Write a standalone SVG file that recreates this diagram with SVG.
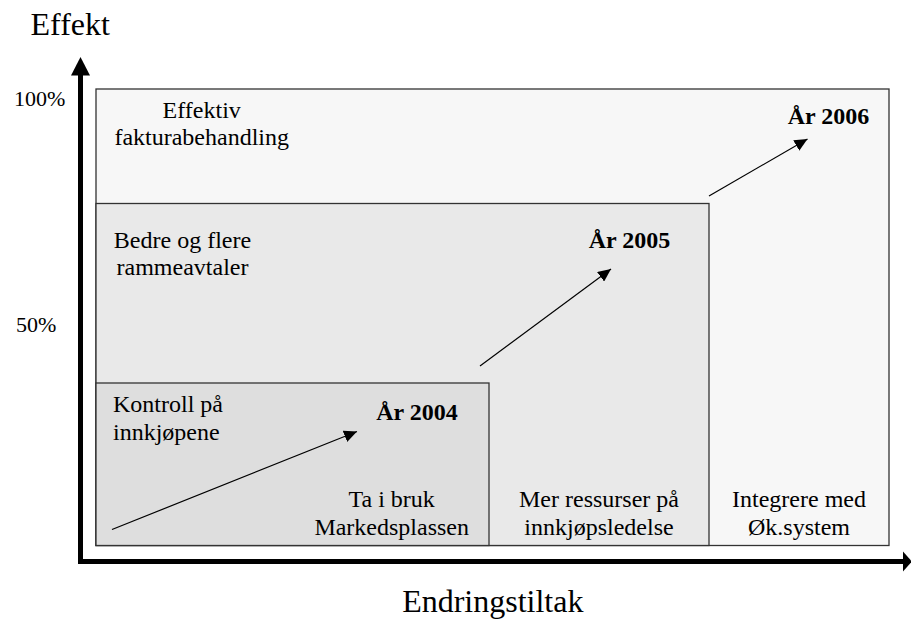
<svg xmlns="http://www.w3.org/2000/svg" width="911" height="620" viewBox="0 0 911 620">
  <style>
    .txt { font-family: "Liberation Serif", "Times New Roman", serif; font-size: 24px; fill: #000; }
    .yr { font-family: "Liberation Serif", "Times New Roman", serif; font-size: 24px; font-weight: bold; fill: #000; }
    .axis-label { font-family: "Liberation Serif", "Times New Roman", serif; font-size: 32px; fill: #000; }
    .pct { font-family: "Liberation Serif", "Times New Roman", serif; font-size: 22px; fill: #000; }
    .box { stroke: #333; stroke-width: 1.3; }
    .step { stroke: #000; stroke-width: 1.2; fill: none; marker-end: url(#head); }
  </style>
  <defs>
    <marker id="head" markerUnits="userSpaceOnUse" markerWidth="14" markerHeight="12" refX="13" refY="6" orient="auto">
      <path d="M0,0 L13,6 L0,12 Z" fill="#000"/>
    </marker>
  </defs>
  <rect width="911" height="620" fill="#fff"/>

  <!-- Effect areas -->
  <g id="area-2006">
    <rect class="box" x="96" y="89" width="793" height="456.5" fill="#f7f7f7"/>
    <text class="txt" x="201.7" y="118" text-anchor="middle">Effektiv</text>
    <text class="txt" x="201.7" y="145" text-anchor="middle">fakturabehandling</text>
    <text class="yr" x="828.5" y="124" text-anchor="middle">År 2006</text>
    <text class="txt" x="799" y="507" text-anchor="middle">Integrere med</text>
    <text class="txt" x="799" y="535" text-anchor="middle">Øk.system</text>
  </g>
  <g id="area-2005">
    <rect class="box" x="96" y="203.5" width="613" height="342" fill="#e9e9e9"/>
    <text class="txt" x="182.5" y="248" text-anchor="middle">Bedre og flere</text>
    <text class="txt" x="182.5" y="275" text-anchor="middle">rammeavtaler</text>
    <text class="yr" x="629.5" y="248" text-anchor="middle">År 2005</text>
    <text class="txt" x="599" y="507" text-anchor="middle">Mer ressurser på</text>
    <text class="txt" x="599" y="535" text-anchor="middle">innkjøpsledelse</text>
  </g>
  <g id="area-2004">
    <rect class="box" x="96" y="383" width="393" height="162.5" fill="#dedede"/>
    <text class="txt" x="113" y="412">Kontroll på</text>
    <text class="txt" x="113" y="440">innkjøpene</text>
    <text class="yr" x="417" y="420" text-anchor="middle">År 2004</text>
    <text class="txt" x="391.7" y="507" text-anchor="middle">Ta i bruk</text>
    <text class="txt" x="391.7" y="535" text-anchor="middle">Markedsplassen</text>
  </g>

  <!-- Axes -->
  <g id="axes">
    <line x1="80.5" y1="564" x2="80.5" y2="73" stroke="#000" stroke-width="5"/>
    <path d="M80.5,57 L71,75.5 L90,75.5 Z" fill="#000"/>
    <line x1="78" y1="561.5" x2="904" y2="561.5" stroke="#000" stroke-width="5"/>
    <path d="M912,561.5 L903,551.5 L903,571.5 Z" fill="#000"/>
    <text class="axis-label" x="30.5" y="35">Effekt</text>
    <text class="pct" x="14" y="106">100%</text>
    <text class="pct" x="16" y="332">50%</text>
    <text class="axis-label" x="492.8" y="612" text-anchor="middle">Endringstiltak</text>
  </g>

  <!-- Progress arrows -->
  <g id="connectors">
    <line class="step" x1="112" y1="529.5" x2="357" y2="431.5"/>
    <line class="step" x1="480" y1="366" x2="611" y2="269"/>
    <line class="step" x1="709" y1="196" x2="807.5" y2="139"/>
  </g>
</svg>
